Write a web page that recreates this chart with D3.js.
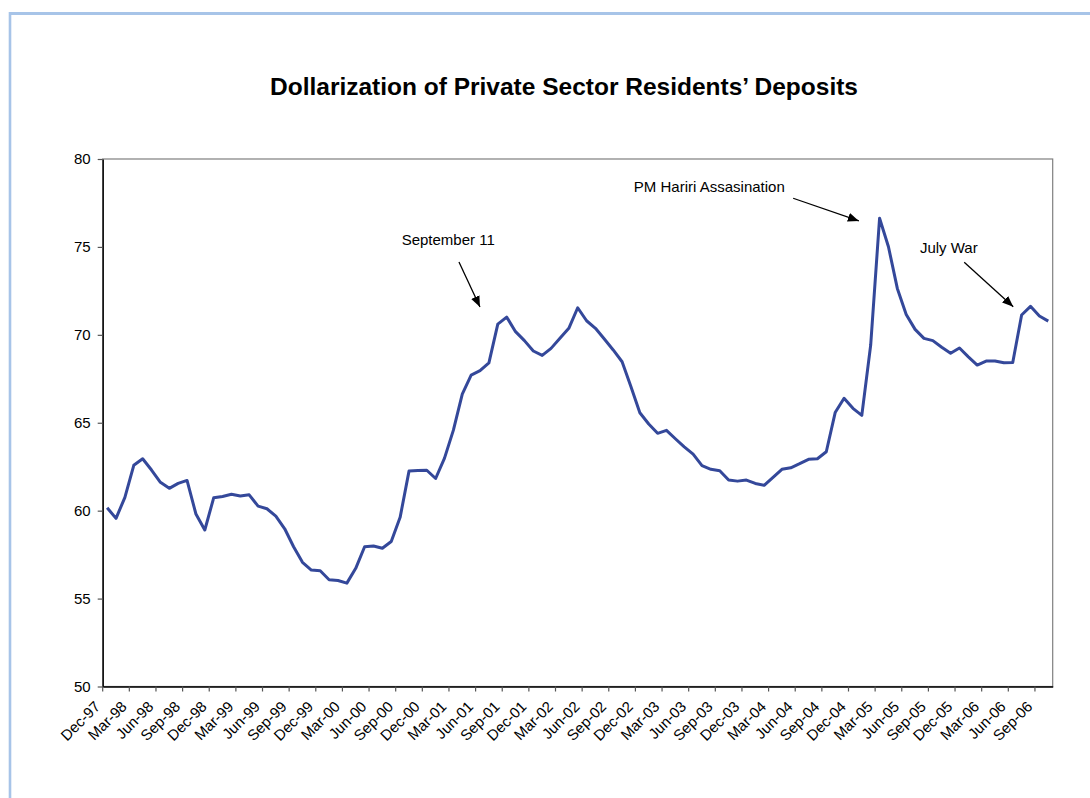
<!DOCTYPE html>
<html>
<head>
<meta charset="utf-8">
<title>Dollarization of Private Sector Residents’ Deposits</title>
<script src="https://cdn.jsdelivr.net/npm/d3@7/dist/d3.min.js"></script>
<style>
  html, body { margin: 0; padding: 0; background: #ffffff; }
  svg { display: block; font-family: "Liberation Sans", Arial, Helvetica, sans-serif; }
</style>
</head>
<body>
<svg id="chart" width="1090" height="798"></svg>
<script>
// Monthly share of foreign-currency deposits, Dec-97 .. Oct-06 (percent)
const startMonth = "1997-12";
const dollarization = [
  60.17, 59.56, 60.76, 62.58, 62.95, 62.31, 61.61, 61.27, 61.55, 61.72,
  59.81, 58.90, 60.73, 60.81, 60.93, 60.83, 60.90, 60.26, 60.11, 59.69,
  58.97, 57.95, 57.06, 56.62, 56.58, 56.07, 56.03, 55.88, 56.72, 57.95,
  57.99, 57.86, 58.25, 59.62, 62.25, 62.28, 62.30, 61.83, 62.99, 64.58,
  66.63, 67.71, 67.96, 68.41, 70.61, 71.01, 70.18, 69.67, 69.08, 68.83,
  69.23, 69.80, 70.37, 71.54, 70.80, 70.37, 69.76, 69.14, 68.47, 67.05,
  65.57, 64.93, 64.40, 64.57, 64.09, 63.63, 63.22, 62.56, 62.35, 62.27,
  61.74, 61.68, 61.74, 61.55, 61.44, 61.89, 62.35, 62.44, 62.67, 62.92,
  62.95, 63.35, 65.58, 66.39, 65.82, 65.42, 69.42, 76.63, 75.01, 72.64,
  71.16, 70.31, 69.80, 69.67, 69.29, 68.95, 69.25, 68.75, 68.28, 68.51,
  68.51, 68.41, 68.43, 71.13, 71.62, 71.07, 70.78
];

// Category labels shown on the x axis (every third month)
const xTickLabels = [
  "Dec-97", "Mar-98", "Jun-98", "Sep-98", "Dec-98", "Mar-99", "Jun-99", "Sep-99", "Dec-99",
  "Mar-00", "Jun-00", "Sep-00", "Dec-00", "Mar-01", "Jun-01", "Sep-01", "Dec-01",
  "Mar-02", "Jun-02", "Sep-02", "Dec-02", "Mar-03", "Jun-03", "Sep-03", "Dec-03",
  "Mar-04", "Jun-04", "Sep-04", "Dec-04", "Mar-05", "Jun-05", "Sep-05", "Dec-05",
  "Mar-06", "Jun-06", "Sep-06"
];
const yTickValues = [50, 55, 60, 65, 70, 75, 80];

// Event notes, keyed by the month they point at
const eventNames = ["September 11", "PM Hariri Assasination", "July War"];
const eventMonths = ["Sep-01", "Mar-05", "Jul-06"];

// ---- categories: one per month ----
const fmt = d3.timeFormat("%b-%y");
const parse = d3.timeParse("%Y-%m");
const first = parse(startMonth);
const categories = dollarization.map((_, i) => fmt(d3.timeMonth.offset(first, i)));

// ---- layout ----
const plot = { left: 102.7, right: 1052.7, top: 159, bottom: 686.5 };
const svg = d3.select("#chart");

svg.append("rect").attr("width", 1090).attr("height", 798).attr("fill", "#ffffff");

// outer frame (top and left edges visible)
svg.append("line").attr("x1", 9).attr("x2", 1090).attr("y1", 13.5).attr("y2", 13.5)
  .attr("stroke", "#a7c4e8").attr("stroke-width", 3);
svg.append("line").attr("x1", 10).attr("x2", 10).attr("y1", 12).attr("y2", 798)
  .attr("stroke", "#a7c4e8").attr("stroke-width", 2.6);

// title
svg.append("text")
  .attr("x", 564).attr("y", 95)
  .attr("text-anchor", "middle")
  .attr("font-size", 24).attr("font-weight", "bold").attr("fill", "#000")
  .attr("textLength", 588).attr("lengthAdjust", "spacingAndGlyphs")
  .text("Dollarization of Private Sector Residents’ Deposits");

// scales
const x = d3.scaleBand().domain(categories).range([plot.left, plot.right]).paddingInner(0).paddingOuter(0);
const bw = x.bandwidth();
const cx = c => x(c) + bw / 2;
const y = d3.scaleLinear().domain([50, 80]).range([plot.bottom, plot.top]);

// plot area border
svg.append("rect")
  .attr("x", plot.left).attr("y", plot.top)
  .attr("width", plot.right - plot.left).attr("height", plot.bottom - plot.top)
  .attr("fill", "none").attr("stroke", "#7f7f7f").attr("stroke-width", 1.2);

// y axis
const yAxis = svg.append("g")
  .attr("transform", `translate(${plot.left},0)`)
  .call(d3.axisLeft(y).tickValues(yTickValues).tickSize(5).tickSizeOuter(0).tickPadding(7).tickFormat(d3.format("d")));
yAxis.select(".domain").attr("stroke", "#000").attr("stroke-width", 1.4);
yAxis.selectAll(".tick line").attr("stroke", "#555").attr("stroke-width", 1.2);
yAxis.selectAll(".tick text")
  .attr("font-size", 15).attr("fill", "#000")
  .attr("font-family", "Liberation Sans, Arial, sans-serif");

// x axis: tick marks on the boundaries before every third month, labels rotated
const xAxis = svg.append("g")
  .attr("transform", `translate(0,${plot.bottom})`)
  .call(d3.axisBottom(x).tickValues(xTickLabels).tickSize(5).tickSizeOuter(0));
xAxis.select(".domain").attr("stroke", "#000").attr("stroke-width", 1.4);
xAxis.selectAll(".tick line")
  .attr("transform", `translate(${-bw / 2},0)`)
  .attr("stroke", "#555").attr("stroke-width", 1.2);
xAxis.selectAll(".tick text")
  .attr("font-size", 15).attr("fill", "#000")
  .attr("font-family", "Liberation Sans, Arial, sans-serif")
  .attr("text-anchor", "end")
  .attr("dy", null)
  .attr("y", 0)
  .attr("transform", "translate(-6,21) rotate(-45)");

// series line
const line = d3.line()
  .x((d, i) => cx(categories[i]))
  .y(d => y(d));
svg.append("path")
  .datum(dollarization)
  .attr("d", line)
  .attr("fill", "none")
  .attr("stroke", "#34489a")
  .attr("stroke-width", 3)
  .attr("stroke-linejoin", "round");

// event annotations
svg.append("defs").append("marker")
  .attr("id", "arrow")
  .attr("markerUnits", "userSpaceOnUse")
  .attr("markerWidth", 12).attr("markerHeight", 9)
  .attr("refX", 11).attr("refY", 4.5)
  .attr("orient", "auto")
  .append("path").attr("d", "M0,0 L11,4.5 L0,9 Z").attr("fill", "#000");

const noteLayout = [
  { text: [-105, -72], from: [-47.7, -55], to: [-26.7, -10] },
  { text: [-245.7, -26.6], from: [-86.4, -20], to: [-20.7, 2.7] },
  { text: [-101.7, -62], from: [-57.4, -52.7], to: [-8.4, -8.3] }
];

eventNames.forEach((name, k) => {
  const idx = categories.indexOf(eventMonths[k]);
  const px = cx(categories[idx]);
  const py = y(dollarization[idx]);
  const L = noteLayout[k];
  svg.append("text")
    .attr("x", px + L.text[0]).attr("y", py + L.text[1])
    .attr("font-size", 15).attr("fill", "#000")
    .text(name);
  svg.append("line")
    .attr("x1", px + L.from[0]).attr("y1", py + L.from[1])
    .attr("x2", px + L.to[0]).attr("y2", py + L.to[1])
    .attr("stroke", "#000").attr("stroke-width", 1.3)
    .attr("marker-end", "url(#arrow)");
});
</script>
</body>
</html>
